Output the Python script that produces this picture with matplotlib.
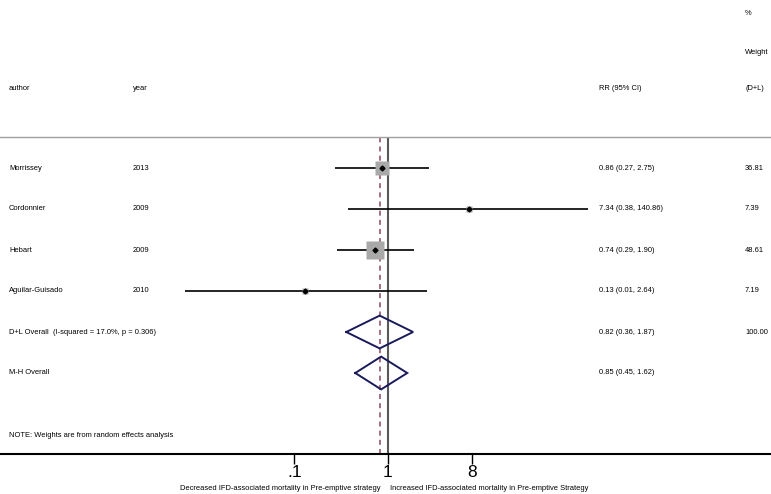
import numpy as np
import matplotlib
matplotlib.use("Agg")
import matplotlib.pyplot as plt
from matplotlib.transforms import blended_transform_factory

plt.rcParams['font.family'] = ['Liberation Sans', 'DejaVu Sans']

# ---- data ----
authors = ["Morrissey", "Cordonnier", "Hebart", "Aguilar-Guisado"]
years = ["2013", "2009", "2009", "2010"]
rr = [0.86, 7.34, 0.74, 0.13]
ci_low = [0.27, 0.38, 0.29, 0.0068]
ci_high = [2.75, 140.86, 1.90, 2.64]
weights = [36.81, 7.39, 48.61, 7.19]

overall_labels = ["D+L Overall  (I-squared = 17.0%, p = 0.306)", "M-H Overall"]
overall_rr = [0.82, 0.85]
overall_low = [0.36, 0.45]
overall_high = [1.87, 1.62]
overall_weight = ["100.00", ""]

tick_vals = [0.1, 1, 8]
tick_labels = [".1", "1", "8"]

note = "NOTE: Weights are from random effects analysis"
xlab_left = "Decreased IFD-associated mortality in Pre-emptive strategy"
xlab_right = "Increased IFD-associated mortality in Pre-emptive Strategy"

# ---- figure ----
W, H = 771, 494
fig = plt.figure(figsize=(W / 100, H / 100), dpi=100)
ax_top_px, ax_bot_px = 137, 454
ax = fig.add_axes([0, (H - ax_bot_px) / H, 1, (ax_bot_px - ax_top_px) / H])
ax.set_xscale('log')
# pixel mapping: x_px = 387.7 + 93.4*log10(v)
ax.set_xlim(10 ** (-387.7 / 93.4), 10 ** ((W - 387.7) / 93.4))
row0, rowstep = 168, 41
ax.set_ylim((ax_bot_px - row0) / rowstep, (ax_top_px - row0) / rowstep)

for s in ['left', 'right']:
    ax.spines[s].set_visible(False)
ax.spines['top'].set_color('#a0a0a0')
ax.spines['top'].set_linewidth(1.0)
ax.spines['bottom'].set_color('black')
ax.spines['bottom'].set_linewidth(1.5)
ax.set_yticks([])
ax.set_xticks(tick_vals)
ax.set_xticklabels(tick_labels, fontsize=12.5)
ax.minorticks_off()
ax.tick_params(axis='x', direction='out', length=7, width=1.0, pad=1)

# reference lines
ax.axvline(1, color='#595959', lw=1.5, zorder=1)
ax.axvline(overall_rr[0], color='#94566a', lw=1.2, ls=(0, (3.0, 2.5)), zorder=1)

tx = blended_transform_factory(fig.transFigure, ax.transData)
fs = 5.45
x_author, x_year, x_rr, x_w = 9 / W, 133 / W, 599 / W, 745 / W

for i in range(len(authors)):
    ax.plot([ci_low[i], ci_high[i]], [i, i], color='black', lw=1.2, zorder=2,
            solid_capstyle='butt')
    ax.plot(rr[i], i, marker='s', ms=1.78 * np.sqrt(weights[i]), color='#a9a9a9',
            mec='none', zorder=3)
    ax.plot(rr[i], i, marker='D', ms=2.5, color='black', zorder=4)
    ax.text(x_author, i, authors[i], transform=tx, fontsize=fs, va='center', ha='left')
    ax.text(x_year, i, years[i], transform=tx, fontsize=fs, va='center', ha='left')
    ax.text(x_rr, i, f"{rr[i]:.2f} ({ci_low[i]:.2f}, {ci_high[i]:.2f})", transform=tx,
            fontsize=fs, va='center', ha='left')
    ax.text(x_w, i, f"{weights[i]:.2f}", transform=tx, fontsize=fs, va='center', ha='left')

for j in range(len(overall_labels)):
    r = len(authors) + j
    h = 0.4
    xs = [overall_low[j], overall_rr[j], overall_high[j], overall_rr[j], overall_low[j]]
    ys = [r, r - h, r, r + h, r]
    ax.plot(xs, ys, color='#1b1b5c', lw=1.4, zorder=3, solid_joinstyle='miter')
    ax.text(x_author, r, overall_labels[j], transform=tx, fontsize=fs, va='center', ha='left')
    ax.text(x_rr, r, f"{overall_rr[j]:.2f} ({overall_low[j]:.2f}, {overall_high[j]:.2f})",
            transform=tx, fontsize=fs, va='center', ha='left')
    if overall_weight[j]:
        ax.text(x_w, r, overall_weight[j], transform=tx, fontsize=fs, va='center', ha='left')

# headers
def ypx(p):
    return (p - row0) / rowstep

hdr = dict(transform=tx, fontsize=fs, va='center', ha='left', clip_on=False)
ax.text(x_w, ypx(14), "%", **hdr)
ax.text(x_w, ypx(52), "Weight", **hdr)
ax.text(x_author, ypx(88), "author", **hdr)
ax.text(x_year, ypx(88), "year", **hdr)
ax.text(x_rr, ypx(88), "RR (95% CI)", **hdr)
ax.text(x_w, ypx(88), "(D+L)", **hdr)

ax.text(x_author, ypx(435), note, transform=tx, fontsize=fs, va='center', ha='left')

# bottom labels
fig.text(383 / W, (H - 488) / H, xlab_left + " ", fontsize=5.4, ha='right', va='center')
fig.text(390 / W, (H - 488) / H, xlab_right, fontsize=5.4, ha='left', va='center')

fig.savefig("out.png", dpi=100)
